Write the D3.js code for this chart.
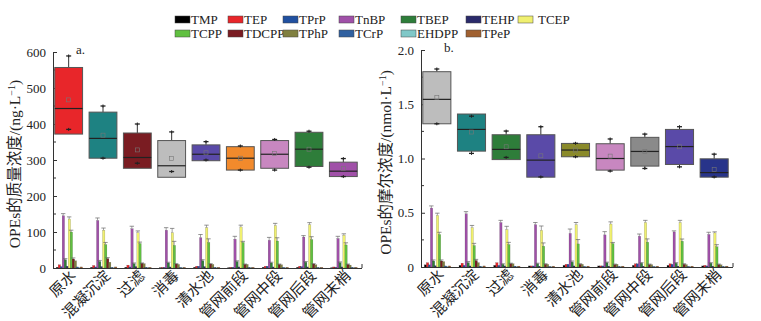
<!DOCTYPE html>
<html>
<head>
<meta charset="utf-8">
<script src="https://cdn.jsdelivr.net/npm/d3@7/dist/d3.min.js"></script>
<style>
  body { margin: 0; background: #fff; }
  svg text { font-family: "Liberation Serif", "Times New Roman", serif; }
</style>
</head>
<body>
<svg id="chart" width="761" height="321"></svg>
<script>
// sampling sites (x categories)
const sites = ['原水', '混凝沉淀', '过滤', '消毒', '清水池', '管网前段', '管网中段', '管网后段', '管网末梢'];

// legend / compound series
const compounds = ['TMP', 'TEP', 'TPrP', 'TnBP', 'TBEP', 'TEHP', 'TCEP', 'TCPP', 'TDCPP', 'TPhP', 'TCrP', 'EHDPP', 'TPeP'];
const compoundColors = ['#000000', '#e8262a', '#2050a0', '#a050a8', '#2e7d3a', '#2a2a6a', '#f0f070',
                        '#60c040', '#7a1c22', '#808040', '#3060a0', '#80c8c8', '#a06030'];

// ---- panel a: total mass concentration (ng/L), box stats per site
const massQ1     = [372, 305, 277, 252, 298, 272, 277, 282, 254];
const massQ3     = [557, 433, 375, 354, 342, 337, 354, 377, 294];
const massMedian = [443, 360, 307, 284, 316, 305, 316, 330, 269];
const massMean   = [467, 369, 328, 304, 320, 305, 318, 330, 277];
const massMin    = [385, 305, 291, 268, 300, 272, 272, 280, 254];
const massMax    = [589, 450, 400, 378, 351, 339, 357, 380, 304];
const massBoxColors = ['#e8262a', '#1e8282', '#7a1c22', '#bdbdbd', '#5a4aa8', '#f28a2c', '#c887c0', '#2e7d3a', '#a050a8'];

// panel a: individual compounds (ng/L), one array per compound
const massBars = {
    TMP:   [2, 2, 2, 1, 2, 1, 2, 2, 1],
    TEP:   [9, 7, 8, 2, 5, 2, 5, 5, 3],
    TPrP:  [4, 3, 3, 2, 5, 2, 5, 4, 2],
    TnBP:  [145, 132, 109, 105, 84, 80, 77, 86, 82],
    TBEP:  [23, 18, 12, 14, 20, 18, 14, 16, 15],
    TEHP:  [5, 4, 4, 3, 4, 3, 3, 3, 3],
    TCEP:  [136, 105, 98, 98, 112, 114, 118, 120, 91],
    TCPP:  [100, 65, 68, 63, 71, 71, 75, 79, 64],
    TDCPP: [25, 26, 13, 11, 11, 10, 10, 11, 10],
    TPhP:  [20, 16, 12, 10, 10, 10, 9, 9, 8],
    TCrP:  [3, 2, 2, 2, 2, 2, 2, 2, 2],
    EHDPP: [1, 1, 1, 1, 1, 1, 1, 1, 1],
    TPeP:  [3, 3, 2, 2, 2, 2, 2, 2, 2]
};
const massErr = {
    TnBP:  [6, 7, 7, 7, 9, 8, 8, 4, 6],
    TCEP:  [6, 6, 5, 12, 7, 5, 6, 6, 4],
    TCPP:  [5, 6, 4, 11, 10, 3, 9, 8, 6],
    TBEP:  [3, 3, 2, 2, 3, 2, 2, 2, 2],
    TDCPP: [3, 3, 1, 1, 1, 1, 1, 1, 1]
};

// ---- panel b: total molar concentration (nmol/L)
const molQ1     = [1.32, 1.068, 0.99, 0.828, 1.016, 0.893, 0.93, 0.945, 0.828];
const molQ3     = [1.80, 1.41, 1.219, 1.219, 1.139, 1.136, 1.195, 1.268, 0.997];
const molMedian = [1.545, 1.268, 1.084, 0.985, 1.078, 1.0, 1.065, 1.11, 0.87];
const molMean   = [1.564, 1.244, 1.108, 1.025, 1.078, 1.022, 1.063, 1.108, 0.90];
const molMin    = [1.32, 1.047, 1.01, 0.83, 1.016, 0.884, 0.908, 0.923, 0.83];
const molMax    = [1.825, 1.39, 1.253, 1.293, 1.14, 1.18, 1.225, 1.293, 1.04];
const molBoxColors = ['#bdbdbd', '#1e8282', '#2e7d3a', '#5a4aa8', '#8a8a2a', '#c887c0', '#8a8a8a', '#5a4aa8', '#28348a'];

const molBars = {
    TMP:   [0.02, 0.015, 0.015, 0.01, 0.015, 0.01, 0.015, 0.015, 0.01],
    TEP:   [0.04, 0.035, 0.04, 0.01, 0.025, 0.01, 0.03, 0.03, 0.015],
    TPrP:  [0.02, 0.015, 0.015, 0.01, 0.025, 0.01, 0.03, 0.025, 0.01],
    TnBP:  [0.543, 0.49, 0.41, 0.39, 0.31, 0.296, 0.284, 0.323, 0.30],
    TBEP:  [0.055, 0.04, 0.025, 0.03, 0.045, 0.04, 0.035, 0.035, 0.035],
    TEHP:  [0.012, 0.01, 0.01, 0.008, 0.01, 0.008, 0.008, 0.008, 0.008],
    TCEP:  [0.476, 0.363, 0.345, 0.338, 0.39, 0.396, 0.41, 0.41, 0.314],
    TCPP:  [0.30, 0.198, 0.207, 0.192, 0.213, 0.216, 0.229, 0.238, 0.186],
    TDCPP: [0.055, 0.06, 0.03, 0.025, 0.025, 0.022, 0.022, 0.025, 0.022],
    TPhP:  [0.05, 0.04, 0.03, 0.025, 0.025, 0.025, 0.022, 0.022, 0.02],
    TCrP:  [0.01, 0.008, 0.008, 0.006, 0.006, 0.006, 0.006, 0.006, 0.006],
    EHDPP: [0.004, 0.004, 0.003, 0.003, 0.003, 0.003, 0.003, 0.003, 0.003],
    TPeP:  [0.01, 0.01, 0.008, 0.008, 0.008, 0.008, 0.008, 0.008, 0.008]
};
const molErr = {
    TnBP:  [0.02, 0.02, 0.02, 0.02, 0.04, 0.03, 0.02, 0.01, 0.02],
    TCEP:  [0.02, 0.02, 0.03, 0.04, 0.02, 0.02, 0.02, 0.02, 0.01],
    TCPP:  [0.02, 0.02, 0.02, 0.03, 0.04, 0.01, 0.03, 0.02, 0.02],
    TBEP:  [0.01, 0.01, 0.005, 0.005, 0.01, 0.005, 0.005, 0.005, 0.005],
    TDCPP: [0.01, 0.01, 0.005, 0.005, 0.005, 0.005, 0.005, 0.005, 0.005]
};

class BoxBarPanel {
    constructor(_config) {
        this.config = _config;
        this.initVis();
    }

    initVis() {
        let vis = this;
        const c = vis.config;
        vis.g = d3.select('#chart').append('g');

        vis.xScale = d3.scaleBand().domain(sites).range([c.left, c.right]).padding(0);
        vis.yScale = d3.scaleLinear().domain([0, c.yMax]).range([c.bottom, c.top]);
        vis.seriesScale = d3.scaleBand().domain(compounds).range([-14, 12]).padding(0);

        // y axis: major ticks + minor ticks
        const yAxis = d3.axisLeft(vis.yScale).tickValues(c.majorTicks).tickFormat(c.tickFormat).tickSize(-4).tickPadding(7);
        const yAxisG = vis.g.append('g').attr('transform', `translate(${c.left},0)`).call(yAxis);
        yAxisG.select('.domain').attr('stroke', '#333');
        yAxisG.selectAll('.tick line').attr('stroke', '#333');
        yAxisG.selectAll('text').attr('font-size', 13).attr('fill', '#222')
            .style('font-family', '"Liberation Serif", serif');
        vis.g.append('g').selectAll('line').data(c.minorTicks).join('line')
            .attr('x1', c.left).attr('x2', c.left + 3)
            .attr('y1', d => vis.yScale(d)).attr('y2', d => vis.yScale(d))
            .attr('stroke', '#333');

        // x axis line with end tick
        vis.g.append('line').attr('x1', c.left).attr('x2', c.right)
            .attr('y1', c.bottom + 0.5).attr('y2', c.bottom + 0.5).attr('stroke', '#333');
        vis.g.append('line').attr('x1', c.right).attr('x2', c.right)
            .attr('y1', c.bottom).attr('y2', c.bottom - 4).attr('stroke', '#333');

        // category labels, rotated
        vis.g.selectAll('.site-label').data(sites).join('text')
            .attr('class', 'site-label')
            .attr('transform', d => `translate(${vis.xScale(d) + vis.xScale.bandwidth() / 2 + 3},${c.bottom + 5}) rotate(-45)`)
            .attr('text-anchor', 'end')
            .attr('dy', '0.35em')
            .attr('font-size', 15)
            .attr('fill', '#222')
            .style('font-family', '"Noto Sans CJK SC", sans-serif')
            .text(d => d);

        // y axis title
        vis.g.append('text')
            .attr('transform', `translate(${c.titleX},${(c.top + c.bottom) / 2 + 4}) rotate(-90)`)
            .attr('text-anchor', 'middle')
            .attr('font-size', 15.5)
            .attr('fill', '#222')
            .html(c.title);

        // panel tag
        vis.g.append('text').attr('x', c.left + 23).attr('y', c.top + 2)
            .attr('font-size', 13).attr('fill', '#222').text(c.tag);

        vis.updateVis();
    }

    updateVis() {
        let vis = this;
        const c = vis.config;
        const bw = vis.xScale.bandwidth();
        const boxW = bw * 0.81;
        const boxes = sites.map((s, i) => ({
            site: s, q1: c.q1[i], q3: c.q3[i], med: c.median[i], mean: c.mean[i],
            min: c.min[i], max: c.max[i], color: c.boxColors[i],
            cx: vis.xScale(s) + bw / 2 - 1.5
        }));

        const boxG = vis.g.selectAll('.box').data(boxes).join('g').attr('class', 'box');

        // whiskers beyond the box
        boxG.append('line')
            .attr('x1', d => d.cx).attr('x2', d => d.cx)
            .attr('y1', d => vis.yScale(d.q3)).attr('y2', d => vis.yScale(Math.max(d.max, d.q3)))
            .attr('stroke', '#333');
        boxG.append('line')
            .attr('x1', d => d.cx).attr('x2', d => d.cx)
            .attr('y1', d => vis.yScale(d.q1)).attr('y2', d => vis.yScale(Math.min(d.min, d.q1)))
            .attr('stroke', '#333');

        boxG.append('rect')
            .attr('x', d => d.cx - boxW / 2)
            .attr('width', boxW)
            .attr('y', d => vis.yScale(d.q3))
            .attr('height', d => vis.yScale(d.q1) - vis.yScale(d.q3))
            .attr('fill', d => d.color)
            .attr('stroke', '#555')
            .attr('stroke-width', 1);

        // whisker caps
        ['min', 'max'].forEach(k => {
            boxG.append('line')
                .attr('x1', d => d.cx - 2.5).attr('x2', d => d.cx + 2.5)
                .attr('y1', d => vis.yScale(d[k])).attr('y2', d => vis.yScale(d[k]))
                .attr('stroke', '#222').attr('stroke-width', 1.3);
            boxG.append('line')
                .attr('x1', d => d.cx).attr('x2', d => d.cx)
                .attr('y1', d => vis.yScale(d[k]) - 1.5).attr('y2', d => vis.yScale(d[k]) + 1.5)
                .attr('stroke', '#222');
        });

        boxG.append('line')
            .attr('x1', d => d.cx - boxW / 2).attr('x2', d => d.cx + boxW / 2)
            .attr('y1', d => vis.yScale(d.med)).attr('y2', d => vis.yScale(d.med))
            .attr('stroke', '#222').attr('stroke-width', 1.2);

        boxG.append('rect')
            .attr('x', d => d.cx - 2).attr('y', d => vis.yScale(d.mean) - 2)
            .attr('width', 4).attr('height', 4)
            .attr('fill', 'none').attr('stroke', '#777').attr('stroke-width', 0.6);

        // grouped bars of individual compounds
        const barData = [];
        compounds.forEach((cmp, j) => {
            sites.forEach((s, i) => {
                const e = c.err[cmp] ? c.err[cmp][i] : 0;
                barData.push({ cmp, site: s, value: c.bars[cmp][i], err: e, color: compoundColors[j] });
            });
        });
        const sw = vis.seriesScale.bandwidth();
        const barX = d => vis.xScale(d.site) + bw / 2 + vis.seriesScale(d.cmp);

        vis.g.selectAll('.bar').data(barData).join('rect')
            .attr('class', 'bar')
            .attr('x', barX)
            .attr('width', sw + 0.4)
            .attr('y', d => vis.yScale(d.value))
            .attr('height', d => c.bottom - vis.yScale(d.value))
            .attr('fill', d => d.color)
            .attr('stroke', 'rgba(40,40,40,0.5)')
            .attr('stroke-width', 0.3);

        const errData = barData.filter(d => d.err > 0);
        vis.g.selectAll('.err').data(errData).join('line')
            .attr('class', 'err')
            .attr('x1', d => barX(d) + sw / 2).attr('x2', d => barX(d) + sw / 2)
            .attr('y1', d => vis.yScale(d.value)).attr('y2', d => vis.yScale(d.value + d.err))
            .attr('stroke', '#666').attr('stroke-width', 0.6);
        vis.g.selectAll('.errcap').data(errData).join('line')
            .attr('class', 'errcap')
            .attr('x1', d => barX(d) + sw / 2 - 2.2).attr('x2', d => barX(d) + sw / 2 + 2.2)
            .attr('y1', d => vis.yScale(d.value + d.err)).attr('y2', d => vis.yScale(d.value + d.err))
            .attr('stroke', '#666').attr('stroke-width', 0.7);
    }
}

new BoxBarPanel({
    left: 53, right: 362, top: 52, bottom: 268, yMax: 600,
    majorTicks: d3.range(0, 601, 100), minorTicks: d3.range(50, 600, 100),
    tickFormat: d3.format('d'),
    q1: massQ1, q3: massQ3, median: massMedian, mean: massMean, min: massMin, max: massMax,
    boxColors: massBoxColors, bars: massBars, err: massErr,
    titleX: 20, tag: 'a.',
    title: 'OPEs<tspan style="font-family:\'Noto Sans CJK SC\'">的质量浓度</tspan>/(ng·L<tspan dy="-5" font-size="10">−1</tspan><tspan dy="5">)</tspan>'
});

new BoxBarPanel({
    left: 421, right: 733, top: 50, bottom: 267, yMax: 2.0,
    majorTicks: [0, 0.5, 1.0, 1.5, 2.0], minorTicks: [0.25, 0.75, 1.25, 1.75],
    tickFormat: d => d === 0 ? '0' : d3.format('.1f')(d),
    q1: molQ1, q3: molQ3, median: molMedian, mean: molMean, min: molMin, max: molMax,
    boxColors: molBoxColors, bars: molBars, err: molErr,
    titleX: 391, tag: 'b.',
    title: 'OPEs<tspan style="font-family:\'Noto Sans CJK SC\'">的摩尔浓度</tspan>/(nmol·L<tspan dy="-5" font-size="10">−1</tspan><tspan dy="5">)</tspan>'
});

// legend, two rows
const legendX = [175, 228, 283, 339, 401, 466, 518];
const legendRows = [compounds.slice(0, 7), compounds.slice(7)];
const legend = d3.select('#chart').append('g').attr('class', 'legend');
legendRows.forEach((row, r) => {
    row.forEach((name, k) => {
        const color = compoundColors[compounds.indexOf(name)];
        const item = legend.append('g').attr('transform', `translate(${legendX[k]},${r === 0 ? 16 : 30})`);
        item.append('rect').attr('width', 15).attr('height', 7)
            .attr('fill', color).attr('stroke', '#444').attr('stroke-width', 0.5);
        item.append('text').attr('x', name === 'TCEP' ? 20 : 16).attr('y', 7.5)
            .attr('font-size', 13).attr('fill', '#222').text(name);
    });
});
</script>
</body>
</html>
